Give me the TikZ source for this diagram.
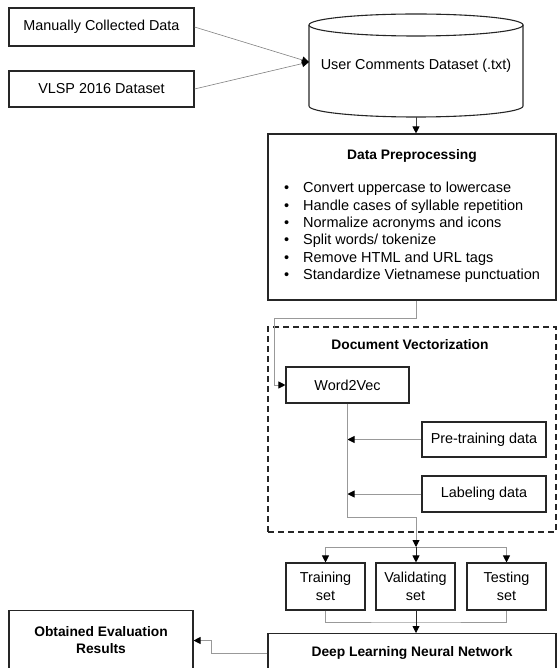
\documentclass[tikz,border=0pt]{standalone}
\usepackage{fontspec}
\setmainfont{Liberation Sans}
\usetikzlibrary{arrows.meta}

\begin{document}
\begin{tikzpicture}[x=1pt, y=-1pt,
    box/.style={draw=black!85, line width=1.1pt, inner sep=0pt},
    txt/.style={font=\fontsize{14.4}{18}\selectfont, align=center, inner sep=0pt},
    head/.style={font=\bfseries\fontsize{13.8}{17}\selectfont, align=center, inner sep=0pt},
    link/.style={draw=black!40, line width=0.9pt},
    tip/.style={-{Triangle[length=7pt,width=7pt,color=black]}}]
	%%%%% START %%%%%
	\useasboundingbox (0,0) rectangle (558,668);
	\clip (0,0) rectangle (558,668);

	\node[box, txt, minimum width=185pt, minimum height=38pt] (manual) at (101.5,27) {Manually Collected Data};
	\node[box, txt, minimum width=185pt, minimum height=36pt] (vlsp) at (101.5,89) {VLSP 2016 Dataset};

	\node[txt, minimum width=214pt, minimum height=103pt] (users) at (416,65.5) {User Comments Dataset (.txt)};
	\draw[draw=black!85, line width=1.1pt] (309,25) -- (309,106) arc[start angle=180, end angle=0, x radius=107, y radius=11] -- (523,25);
	\draw[draw=black!85, line width=1.1pt] (416,25) ellipse[x radius=107, y radius=11];
	\coordinate (usersin) at (309,62);

	\node[box, minimum width=288pt, minimum height=166pt] (prep) at (412,217) {};
	\node[head] (preptitle) at (412,156) {Data Preprocessing};
	\node[txt, anchor=west, align=left, font=\fontsize{14.5}{17.4}\selectfont] (preplist) at (284,232.5)
	    {\makebox[19pt][l]{\textbullet}Convert uppercase to lowercase\\
	     \makebox[19pt][l]{\textbullet}Handle cases of syllable repetition\\
	     \makebox[19pt][l]{\textbullet}Normalize acronyms and icons\\
	     \makebox[19pt][l]{\textbullet}Split words/ tokenize\\
	     \makebox[19pt][l]{\textbullet}Remove HTML and URL tags\\
	     \makebox[19pt][l]{\textbullet}Standardize Vietnamese punctuation};

	\node[box, dash pattern=on 6pt off 4pt, minimum width=288pt, minimum height=205pt] (vect) at (412,429.5) {};
	\node[head] (vecttitle) at (410,345) {Document Vectorization};
	\node[box, txt, minimum width=123pt, minimum height=36pt] (w2v) at (347.5,385) {Word2Vec};
	\node[box, txt, minimum width=124pt, minimum height=35pt] (pretrain) at (484,439.5) {Pre-training data};
	\node[box, txt, minimum width=124pt, minimum height=36pt] (label) at (484,494) {Labeling data};

	\node[box, txt, minimum width=79pt, minimum height=47pt] (train) at (325.5,586.5) {Training\\set};
	\node[box, txt, minimum width=79pt, minimum height=47pt] (valid) at (415.5,586.5) {Validating\\set};
	\node[box, txt, minimum width=79pt, minimum height=47pt] (test) at (506.5,586.5) {Testing\\set};

	\node[box, minimum width=288pt, minimum height=60pt, anchor=north] (deep) at (412,633) {};
	\node[head] (deeptitle) at (412,653) {Deep Learning Neural Network};
	\node[box, minimum width=184pt, minimum height=70pt, anchor=north] (obtained) at (101,610) {};
	\node[head] (obtainedtext) at (101,640.5) {Obtained Evaluation\\Results};

	\coordinate (bend) at (416,517);
	\coordinate (split) at (416,547);
	\coordinate (merge) at (416,622);

	% inputs
	\draw[link, draw=black!50, line width=0.6pt, tip] (manual.east) -- (usersin);
	\draw[link, draw=black!50, line width=0.6pt, tip] (vlsp.east) -- (usersin);
	\draw[draw=black!75, line width=0.9pt, tip] (users.south) -- (users.south |- prep.north);

	% vectorization
	\draw[link, tip] (users.south |- prep.south) -- ++(0,18) -| ([xshift=-11pt]w2v.west) -- (w2v.west);
	\draw[link, tip] (pretrain.west) -- (w2v.south |- pretrain.west);
	\draw[link, tip] (label.west) -- (w2v.south |- label.west);
	\draw[link, tip] (w2v.south) |- (bend) -- (split);

	% data split
	\draw[link, tip] (split) -| (train.north);
	\draw[link, tip] (split) -| (test.north);
	\draw[draw=black!85, line width=0.9pt, tip] (split) -- (split |- valid.north);
	\draw[link] (train.south) |- (merge) -| (test.south);
	\draw[draw=black!85, line width=0.9pt, tip] (split |- valid.south) -- (split |- deep.north);
	\draw[link, tip] (deep.west |- deeptitle) -- ++(-56,0) |- (obtained.east |- obtainedtext);
	%%%%% END %%%%%
\end{tikzpicture}
\end{document}
